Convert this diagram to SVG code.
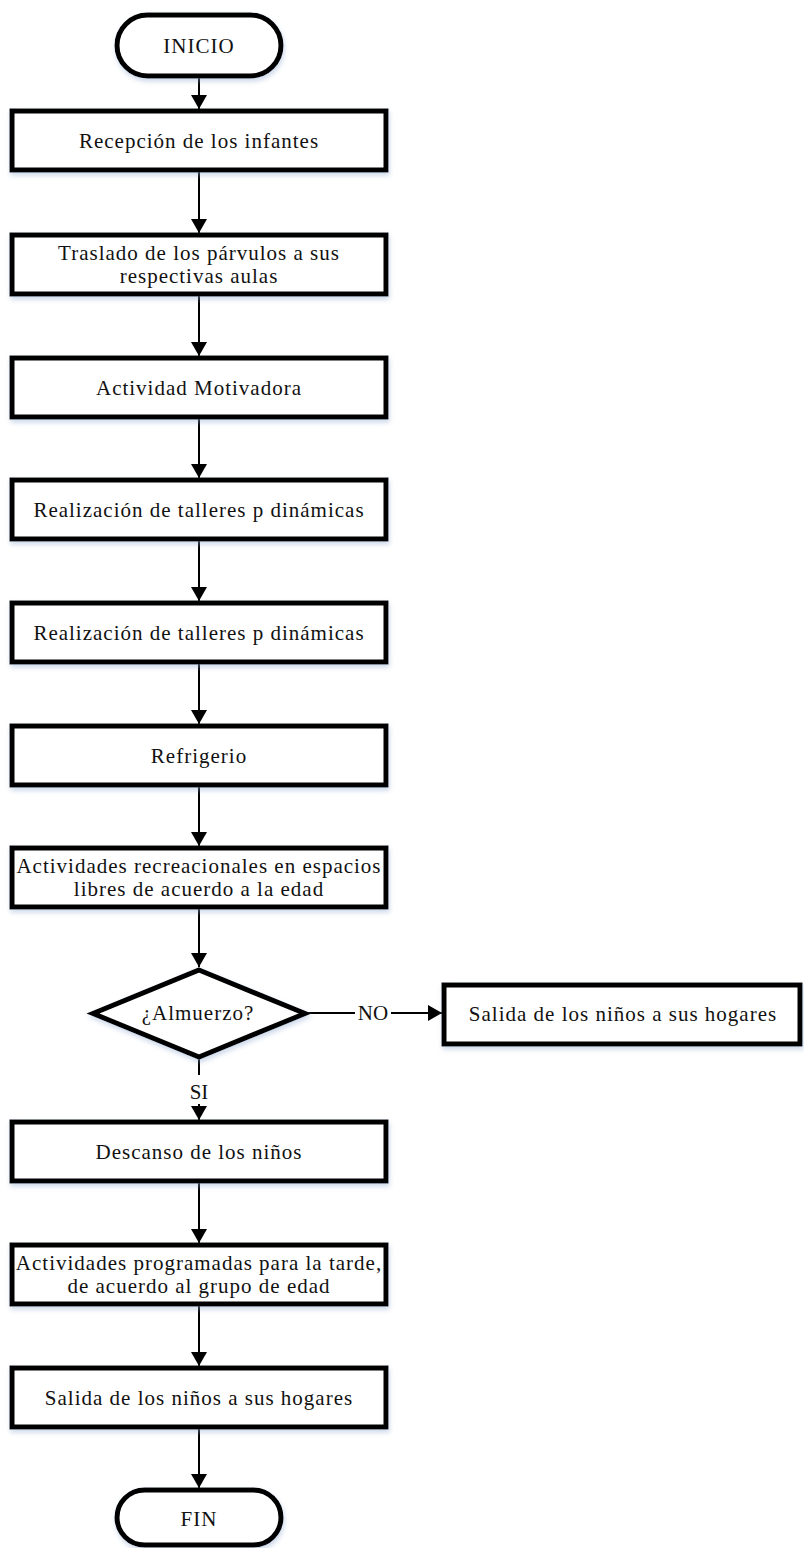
<svg xmlns="http://www.w3.org/2000/svg" width="804" height="1548" viewBox="0 0 804 1548">
<style>
.box{fill:#fff;stroke:#000;stroke-width:5;filter:url(#sh)}
.t{font-family:"Liberation Serif","Times New Roman",serif;font-size:21px;fill:#111;text-anchor:middle;letter-spacing:1px}
.c{stroke:#000;stroke-width:2;fill:none}
.a{marker-end:url(#arr)}
</style>
<defs>
<filter id="sh" x="-10%" y="-20%" width="120%" height="150%">
<feDropShadow dx="1" dy="3" stdDeviation="2.5" flood-color="#8fa9cf" flood-opacity="0.45"/>
</filter>
<marker id="arr" markerUnits="userSpaceOnUse" markerWidth="16" markerHeight="16" viewBox="0 0 14 16" refX="14" refY="8" orient="auto">
<path d="M0,0 L14,8 L0,16 Z" fill="#000"/>
</marker>
</defs>

<g id="connectors">
<line class="c a" x1="199" y1="78" x2="199" y2="109"/>
<line class="c a" x1="199" y1="172" x2="199" y2="233"/>
<line class="c a" x1="199" y1="296" x2="199" y2="356"/>
<line class="c a" x1="199" y1="419" x2="199" y2="478"/>
<line class="c a" x1="199" y1="541" x2="199" y2="601"/>
<line class="c a" x1="199" y1="664" x2="199" y2="724"/>
<line class="c a" x1="199" y1="787" x2="199" y2="846"/>
<line class="c a" x1="199" y1="909" x2="199" y2="967"/>
<line class="c" x1="199" y1="1058" x2="199" y2="1075"/>
<text class="t" x="199" y="1099" style="letter-spacing:0">SI</text>
<line class="c a" x1="199" y1="1104" x2="199" y2="1120"/>
<line class="c" x1="306" y1="1013" x2="355" y2="1013"/>
<text class="t" x="373" y="1020" style="letter-spacing:0">NO</text>
<line class="c a" x1="391" y1="1013" x2="442" y2="1013"/>
<line class="c a" x1="199" y1="1183" x2="199" y2="1243"/>
<line class="c a" x1="199" y1="1306" x2="199" y2="1366"/>
<line class="c a" x1="199" y1="1429" x2="199" y2="1488"/>
</g>

<g id="inicio">
<rect class="box" x="117" y="15" width="164" height="61" rx="30.5"/>
<text class="t" x="199" y="53">INICIO</text>
</g>

<g id="n1">
<rect class="box" x="12" y="111" width="374" height="59"/>
<text class="t" x="199" y="148">Recepción de los infantes</text>
</g>

<g id="n2">
<rect class="box" x="12" y="235" width="374" height="59"/>
<text class="t" x="199" y="260">Traslado de los párvulos a sus</text>
<text class="t" x="199" y="283">respectivas aulas</text>
</g>

<g id="n3">
<rect class="box" x="12" y="358" width="374" height="59"/>
<text class="t" x="199" y="395">Actividad Motivadora</text>
</g>

<g id="n4">
<rect class="box" x="12" y="480" width="374" height="59"/>
<text class="t" x="199" y="517">Realización de talleres p dinámicas</text>
</g>

<g id="n5">
<rect class="box" x="12" y="603" width="374" height="59"/>
<text class="t" x="199" y="640">Realización de talleres p dinámicas</text>
</g>

<g id="n6">
<rect class="box" x="12" y="726" width="374" height="59"/>
<text class="t" x="199" y="763">Refrigerio</text>
</g>

<g id="n7">
<rect class="box" x="12" y="848" width="374" height="59"/>
<text class="t" x="199" y="873">Actividades recreacionales en espacios</text>
<text class="t" x="199" y="896">libres de acuerdo a la edad</text>
</g>

<g id="decision">
<polygon class="box" points="199,970 305,1013.5 199,1057 93,1013.5"/>
<text class="t" x="198" y="1020">¿Almuerzo?</text>
</g>

<g id="n_no">
<rect class="box" x="444" y="985" width="356" height="59"/>
<text class="t" x="623" y="1021">Salida de los niños a sus hogares</text>
</g>

<g id="n8">
<rect class="box" x="12" y="1122" width="374" height="59"/>
<text class="t" x="199" y="1159">Descanso de los niños</text>
</g>

<g id="n9">
<rect class="box" x="12" y="1245" width="374" height="59"/>
<text class="t" x="199" y="1270">Actividades programadas para la tarde,</text>
<text class="t" x="199" y="1293">de acuerdo al grupo de edad</text>
</g>

<g id="n10">
<rect class="box" x="12" y="1368" width="374" height="59"/>
<text class="t" x="199" y="1405">Salida de los niños a sus hogares</text>
</g>

<g id="fin">
<rect class="box" x="117" y="1490" width="164" height="55" rx="27.5"/>
<text class="t" x="199" y="1526">FIN</text>
</g>
</svg>
